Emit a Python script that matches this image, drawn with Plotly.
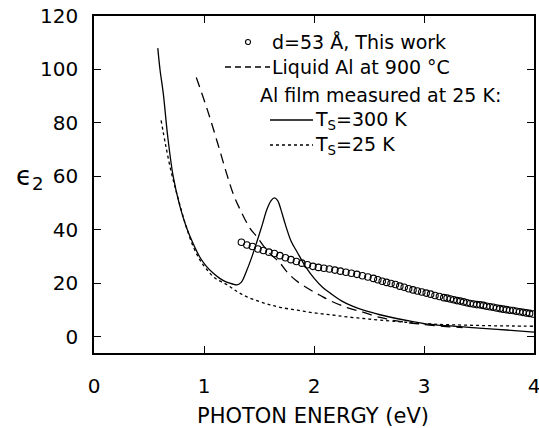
import plotly.graph_objects as go

# ---- data ----
circ_x = [1.34, 1.39, 1.44, 1.49, 1.54, 1.59, 1.64, 1.69, 1.74, 1.79, 1.84, 1.89,
          1.94, 1.99, 2.04, 2.09, 2.14, 2.19, 2.24, 2.29, 2.34, 2.39, 2.44, 2.49,
          2.54, 2.58, 2.62, 2.66, 2.70, 2.74, 2.78, 2.82, 2.86, 2.90, 2.94, 2.98,
          3.02, 3.06, 3.10, 3.14, 3.18, 3.21, 3.24, 3.27, 3.30, 3.33, 3.36, 3.39,
          3.42, 3.45, 3.48, 3.51, 3.54, 3.57, 3.60, 3.63, 3.66, 3.69, 3.72, 3.75,
          3.78, 3.81, 3.84, 3.87, 3.90, 3.93, 3.96, 3.99]
circ_y = [35.4, 34.4, 33.8, 32.9, 32.3, 31.7, 31.2, 30.4, 29.6, 28.9, 28.2, 27.6,
          27.0, 26.4, 26.0, 25.7, 25.4, 25.0, 24.6, 24.2, 23.8, 23.4, 22.9, 22.4,
          21.9, 21.4, 20.8, 20.4, 20.0, 19.6, 19.0, 18.6, 18.0, 17.6, 17.2, 16.8,
          16.4, 16.0, 15.5, 15.1, 14.7, 14.5, 14.2, 13.9, 13.6, 13.4, 13.1, 12.8,
          12.5, 12.3, 12.1, 12.0, 11.8, 11.5, 11.3, 11.1, 10.8, 10.6, 10.4, 10.2,
          10.0, 9.9, 9.6, 9.4, 9.2, 9.0, 8.8, 8.6]

liq_x = [0.93, 1.03, 1.12, 1.21, 1.27, 1.33, 1.42, 1.48, 1.58, 1.69, 1.75, 1.84,
         1.99, 2.05, 2.15, 2.30, 2.45, 2.60, 2.75, 2.90, 3.05, 3.20, 3.35]
liq_y = [97, 85, 73, 60.5, 53, 47.5, 40.5, 37.5, 32, 27.7, 24.5, 21, 17, 15.7,
         13.5, 11, 9.2, 7.3, 6.0, 5.1, 4.4, 3.9, 3.5]

t300_x = [0.58, 0.60, 0.63, 0.67, 0.72, 0.78, 0.84, 0.90, 0.96, 1.02, 1.08, 1.14,
          1.20, 1.26, 1.30, 1.34, 1.39, 1.44, 1.48, 1.53, 1.57, 1.61, 1.64, 1.67,
          1.70, 1.74, 1.79, 1.85, 1.92, 2.00, 2.08, 2.15, 2.25, 2.35, 2.45, 2.60,
          2.75, 2.90, 3.00, 3.20, 3.50, 3.75, 4.00]
t300_y = [108, 100, 91, 75, 60, 49, 41, 35, 30, 26.5, 24, 22, 20.6, 19.8, 19.5,
          20.5, 25, 30.5, 35.5, 42, 47.5, 51, 52, 51, 47.5, 42, 36, 31.5, 26.5,
          22, 18.5, 16.3, 13.5, 11.5, 10, 8.3, 6.9, 5.7, 5.0, 4.2, 3.3, 2.6, 1.8]

t25_x = [0.61, 0.65, 0.70, 0.75, 0.80, 0.84, 0.90, 0.96, 1.02, 1.10, 1.21, 1.30,
         1.39, 1.50, 1.60, 1.70, 1.85, 2.00, 2.15, 2.30, 2.45, 2.60, 2.80, 3.00,
         3.20, 3.40, 3.60, 3.80, 4.00]
t25_y = [81, 72, 62, 54, 46.5, 41, 34, 29, 25.5, 22, 19.5, 17, 15, 13.3, 12, 11.0,
         10, 9, 8.3, 7.5, 6.9, 6.3, 5.6, 5.0, 4.6, 4.4, 4.2, 4.1, 4.0]

x_ticks = [0, 1, 2, 3, 4]
y_ticks = [0, 20, 40, 60, 80, 100, 120]

# ---- layout geometry ----
W, H = 539, 428
L, R, T, B = 94, 534, 16, 353


def px(xp):
    return (xp - L) / (R - L)


def py(yp):
    return (B - yp) / (B - T)


FONT = "DejaVu Sans"
LW = 1.3

fig = go.Figure()
fig.add_trace(go.Scatter(x=t300_x, y=t300_y, mode="lines",
                         line=dict(color="black", width=LW), line_shape="spline",
                         showlegend=False))
fig.add_trace(go.Scatter(x=t25_x, y=t25_y, mode="lines",
                         line=dict(color="black", width=LW, dash="3px,3px"),
                         line_shape="spline", showlegend=False))
fig.add_trace(go.Scatter(x=liq_x, y=liq_y, mode="lines",
                         line=dict(color="black", width=LW, dash="10px,6px"),
                         line_shape="spline", showlegend=False))
fig.add_trace(go.Scatter(x=circ_x, y=circ_y, mode="markers",
                         marker=dict(symbol="circle-open", size=6.5,
                                     color="black", line=dict(width=1.1)),
                         showlegend=False))

# ---- legend (drawn as text + sample shapes) ----
shapes = []
annotations = []
tf = dict(family=FONT, size=19, color="black")

# circle sample
shapes.append(dict(type="circle", xref="paper", yref="paper",
                   x0=px(245.5), x1=px(250.5), y0=py(44.5), y1=py(39.5),
                   line=dict(color="black", width=1.1)))
annotations.append(dict(text="d=53 Å, This work", xref="paper", yref="paper",
                        x=px(270), y=py(42), xanchor="left", yanchor="middle",
                        showarrow=False, font=tf))
# dashed sample
shapes.append(dict(type="line", xref="paper", yref="paper",
                   x0=px(225), x1=px(270), y0=py(67), y1=py(67),
                   line=dict(color="black", width=LW, dash="6px,4px")))
annotations.append(dict(text="Liquid Al at 900 °C", xref="paper", yref="paper",
                        x=px(270), y=py(67), xanchor="left", yanchor="middle",
                        showarrow=False, font=tf))
annotations.append(dict(text="Al film measured at 25 K:", xref="paper", yref="paper",
                        x=px(380), y=py(95), xanchor="center", yanchor="middle",
                        showarrow=False, font=tf))
# solid sample
shapes.append(dict(type="line", xref="paper", yref="paper",
                   x0=px(270), x1=px(313), y0=py(120), y1=py(120),
                   line=dict(color="black", width=LW)))
annotations.append(dict(text="T<sub>S</sub>=300 K", xref="paper", yref="paper",
                        x=px(313), y=py(120), xanchor="left", yanchor="middle",
                        showarrow=False, font=tf))
# dotted sample
shapes.append(dict(type="line", xref="paper", yref="paper",
                   x0=px(270), x1=px(313), y0=py(145), y1=py(145),
                   line=dict(color="black", width=LW, dash="3px,3px")))
annotations.append(dict(text="T<sub>S</sub>=25 K", xref="paper", yref="paper",
                        x=px(313), y=py(145), xanchor="left", yanchor="middle",
                        showarrow=False, font=tf))

# axis titles
annotations.append(dict(text="PHOTON ENERGY (eV)", xref="paper", yref="paper",
                        x=px(313), y=py(416), xanchor="center", yanchor="middle",
                        showarrow=False, font=dict(family=FONT, size=21, color="black")))
annotations.append(dict(text="ϵ<sub>2</sub>", xref="paper", yref="paper",
                        x=px(30), y=py(178), xanchor="center", yanchor="middle",
                        showarrow=False, font=dict(family=FONT, size=26, color="black")))

axis_common = dict(showline=True, linecolor="black", linewidth=1.5, mirror="ticks",
                   ticks="inside", ticklen=7, tickwidth=1.2, tickcolor="black",
                   showgrid=False, zeroline=False, ticklabeloverflow="allow",
                   tickfont=dict(family=FONT, size=20, color="black"))

fig.update_layout(
    width=W, height=H,
    margin=dict(l=L, r=W - R, t=T, b=H - B, autoexpand=False),
    paper_bgcolor="white", plot_bgcolor="white",
    xaxis=dict(range=[0, 4], tickvals=x_ticks, ticklabelstandoff=14, **axis_common),
    yaxis=dict(range=[-6, 120], tickvals=y_ticks, ticklabelstandoff=10, **axis_common),
    shapes=shapes, annotations=annotations,
)

fig.write_html("out.html")
